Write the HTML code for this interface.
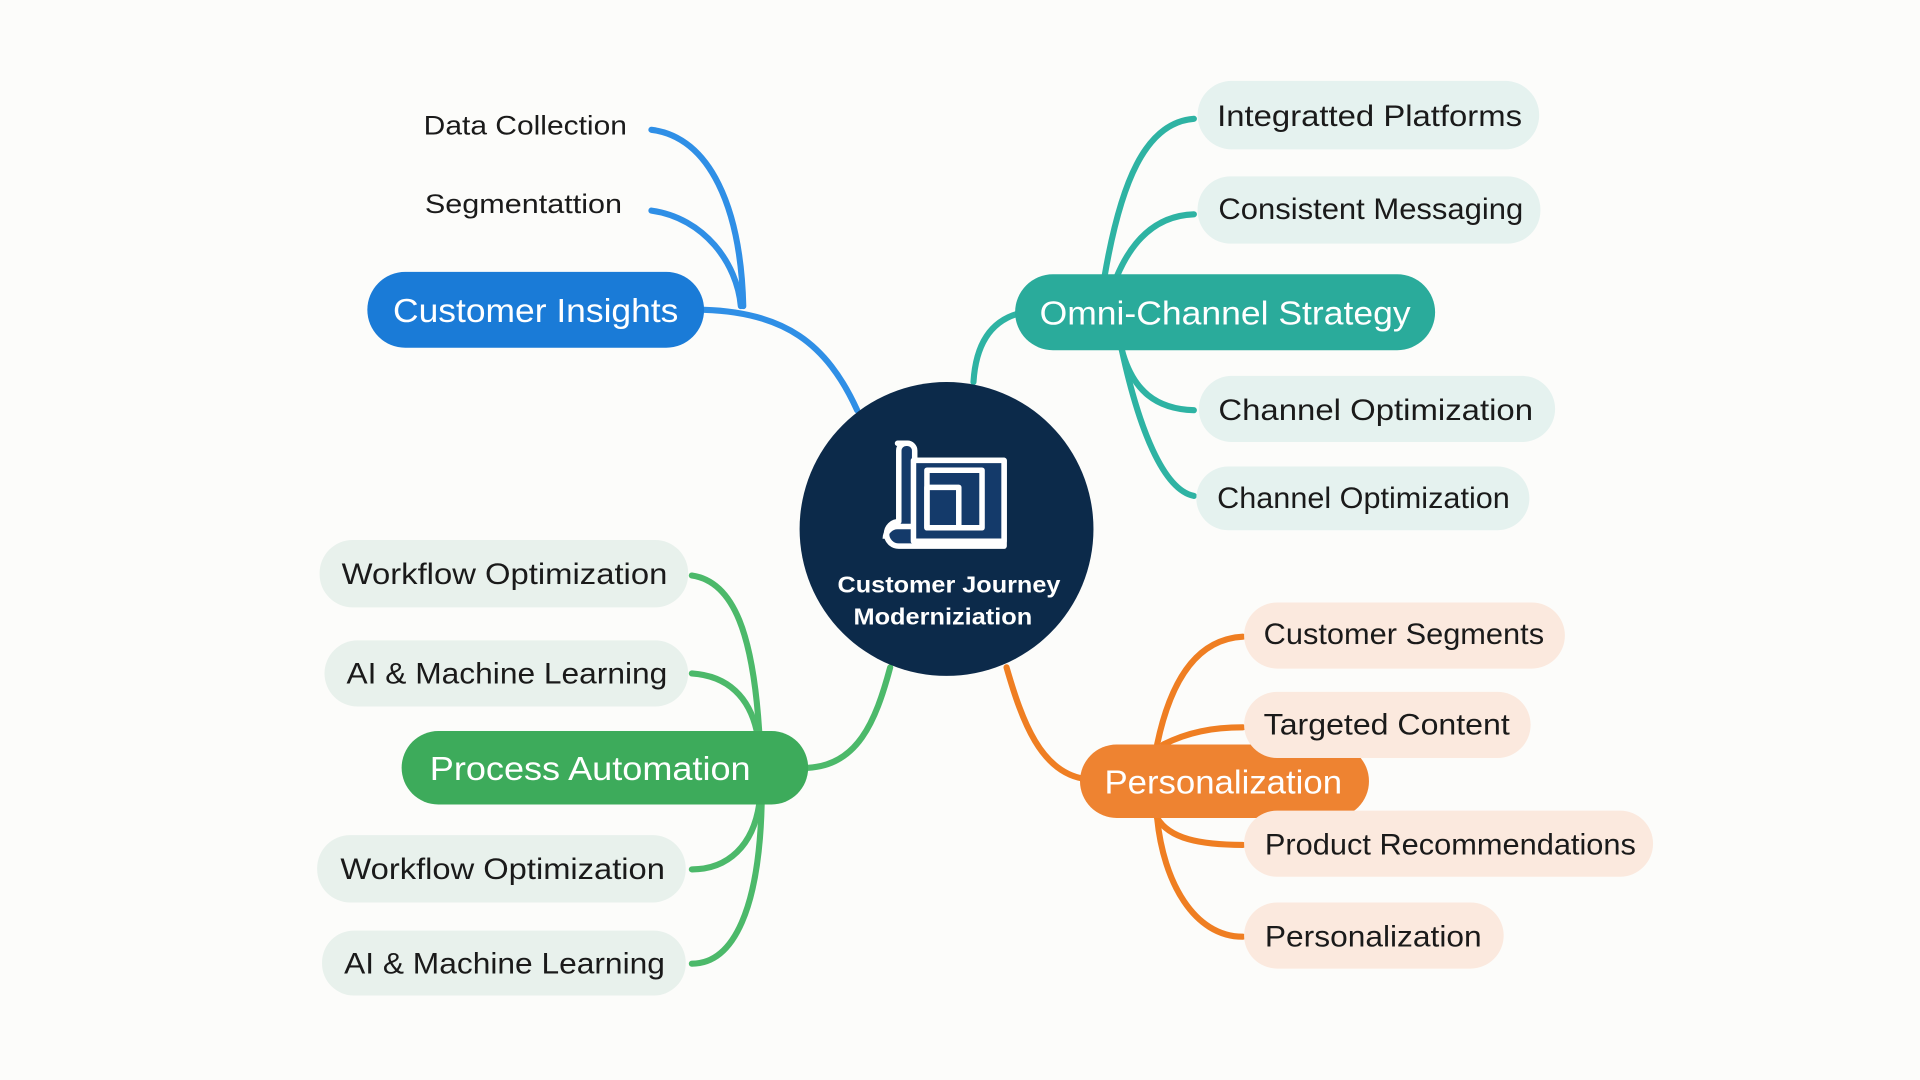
<!DOCTYPE html>
<html><head><meta charset="utf-8"><style>
html,body{margin:0;padding:0;background:#fcfcfa;}
svg{display:block;}
text{font-family:"Liberation Sans","DejaVu Sans",sans-serif;}
</style></head><body>
<svg width="1920" height="1080" viewBox="0 0 1568 882" preserveAspectRatio="none" xmlns="http://www.w3.org/2000/svg">
<rect width="1568" height="882" fill="#fcfcfa"/>
<g fill="none" stroke-width="5" stroke-linecap="round">
<g stroke="#2f8fe6">
<path d="M532,106 C580,112 605,170 607,250"/>
<path d="M532,172 C575,178 602,215 605,250"/>
<path d="M575,253 C640,255 675,280 700,335"/>
</g>
<g stroke="#2eb3a3">
<path d="M795,312 C797,280 810,262 832,256"/>
<path d="M902,226 C915,150 935,100 975,97"/>
<path d="M912,226 C925,195 945,176 975,175"/>
<path d="M916,285 C925,320 945,334 975,335"/>
<path d="M916,285 C930,350 950,400 975,405"/>
</g>
<g stroke="#4cb96a">
<path d="M727,545 C715,590 700,625 660,627"/>
<path d="M620,597 C615,520 600,475 565,470"/>
<path d="M618,597 C612,570 595,552 565,550"/>
<path d="M620,657 C615,690 595,710 565,710"/>
<path d="M622,657 C620,740 600,787 565,787"/>
</g>
<g stroke="#ef7e22">
<path d="M822,545 C835,590 850,630 885,636"/>
<path d="M945,608 C955,560 975,522 1015,520"/>
<path d="M950,608 C970,598 990,594 1015,594"/>
<path d="M945,668 C955,685 980,690 1015,690"/>
<path d="M945,668 C950,720 975,765 1015,765"/>
</g>
</g>
<circle cx="773" cy="432" r="120" fill="#0c2a4a"/>
<g fill="none" stroke="#fff" stroke-width="4.5" stroke-linejoin="round">
<path d="M733,362 h8 a6,6 0 0 1 6,6 v8 h73 v70 h-86 a10,10 0 0 1 0,-20 v-58 a6,6 0 0 1 6,-6 z" fill="#143a6a"/>
<rect x="746" y="376" width="74" height="66" fill="#143a6a"/>
<rect x="757" y="384" width="45" height="47"/>
<rect x="757" y="398" width="26" height="33"/>
<path d="M723,440 a10,10 0 0 1 10,-10 h13"/>
</g>
<text x="684" y="484" font-size="19" font-weight="bold" fill="#fff" textLength="182" lengthAdjust="spacingAndGlyphs">Customer Journey</text>
<text x="697" y="510" font-size="19" font-weight="bold" fill="#fff" textLength="146" lengthAdjust="spacingAndGlyphs">Moderniziation</text>
<rect x="300" y="222" width="275" height="62" rx="31" fill="#1a7bd7"/>
<text x="321" y="263" font-size="27" fill="#fff" textLength="233" lengthAdjust="spacingAndGlyphs">Customer Insights</text>
<rect x="829" y="224" width="343" height="62" rx="31" fill="#2aab9b"/>
<text x="849" y="265" font-size="27" fill="#fff" textLength="303" lengthAdjust="spacingAndGlyphs">Omni-Channel Strategy</text>
<rect x="328" y="597" width="332" height="60" rx="30" fill="#3dab5b"/>
<text x="351" y="637" font-size="27" fill="#fff" textLength="262" lengthAdjust="spacingAndGlyphs">Process Automation</text>
<rect x="882" y="608" width="236" height="60" rx="30" fill="#ee8331"/>
<text x="902" y="648" font-size="27" fill="#fff" textLength="194" lengthAdjust="spacingAndGlyphs">Personalization</text>
<text x="346" y="110" font-size="22" fill="#1a1a1a" textLength="166" lengthAdjust="spacingAndGlyphs">Data Collection</text>
<text x="347" y="174" font-size="22" fill="#1a1a1a" textLength="161" lengthAdjust="spacingAndGlyphs">Segmentattion</text>
<g fill="#e5f2ef"><rect x="978" y="66" width="279" height="56" rx="28"/><rect x="978" y="144" width="280" height="55" rx="27"/><rect x="979" y="307" width="291" height="54" rx="27"/><rect x="977" y="381" width="272" height="52" rx="26"/></g>
<g font-size="24" fill="#1a1a1a" lengthAdjust="spacingAndGlyphs">
<text x="994" y="103" textLength="249" lengthAdjust="spacingAndGlyphs">Integratted Platforms</text>
<text x="995" y="179" textLength="249" lengthAdjust="spacingAndGlyphs">Consistent Messaging</text>
<text x="995" y="343" textLength="257" lengthAdjust="spacingAndGlyphs">Channel Optimization</text>
<text x="994" y="415" textLength="239" lengthAdjust="spacingAndGlyphs">Channel Optimization</text>
</g>
<g fill="#e8f1ec"><rect x="261" y="441" width="301" height="55" rx="27"/><rect x="265" y="523" width="297" height="54" rx="27"/><rect x="259" y="682" width="301" height="55" rx="27"/><rect x="263" y="760" width="297" height="53" rx="26"/></g>
<g font-size="24" fill="#1a1a1a">
<text x="279" y="477" textLength="266" lengthAdjust="spacingAndGlyphs">Workflow Optimization</text>
<text x="283" y="558" textLength="262" lengthAdjust="spacingAndGlyphs">AI &amp; Machine Learning</text>
<text x="278" y="718" textLength="265" lengthAdjust="spacingAndGlyphs">Workflow Optimization</text>
<text x="281" y="795" textLength="262" lengthAdjust="spacingAndGlyphs">AI &amp; Machine Learning</text>
</g>
<g fill="#fbe9de"><rect x="1016" y="492" width="262" height="54" rx="27"/><rect x="1016" y="565" width="234" height="54" rx="27"/><rect x="1016" y="662" width="334" height="54" rx="27"/><rect x="1016" y="737" width="212" height="54" rx="27"/></g>
<g font-size="24" fill="#1a1a1a">
<text x="1032" y="526" textLength="229" lengthAdjust="spacingAndGlyphs">Customer Segments</text>
<text x="1032" y="600" textLength="201" lengthAdjust="spacingAndGlyphs">Targeted Content</text>
<text x="1033" y="698" textLength="303" lengthAdjust="spacingAndGlyphs">Product Recommendations</text>
<text x="1033" y="773" textLength="177" lengthAdjust="spacingAndGlyphs">Personalization</text>
</g>
</svg>
</body></html>
